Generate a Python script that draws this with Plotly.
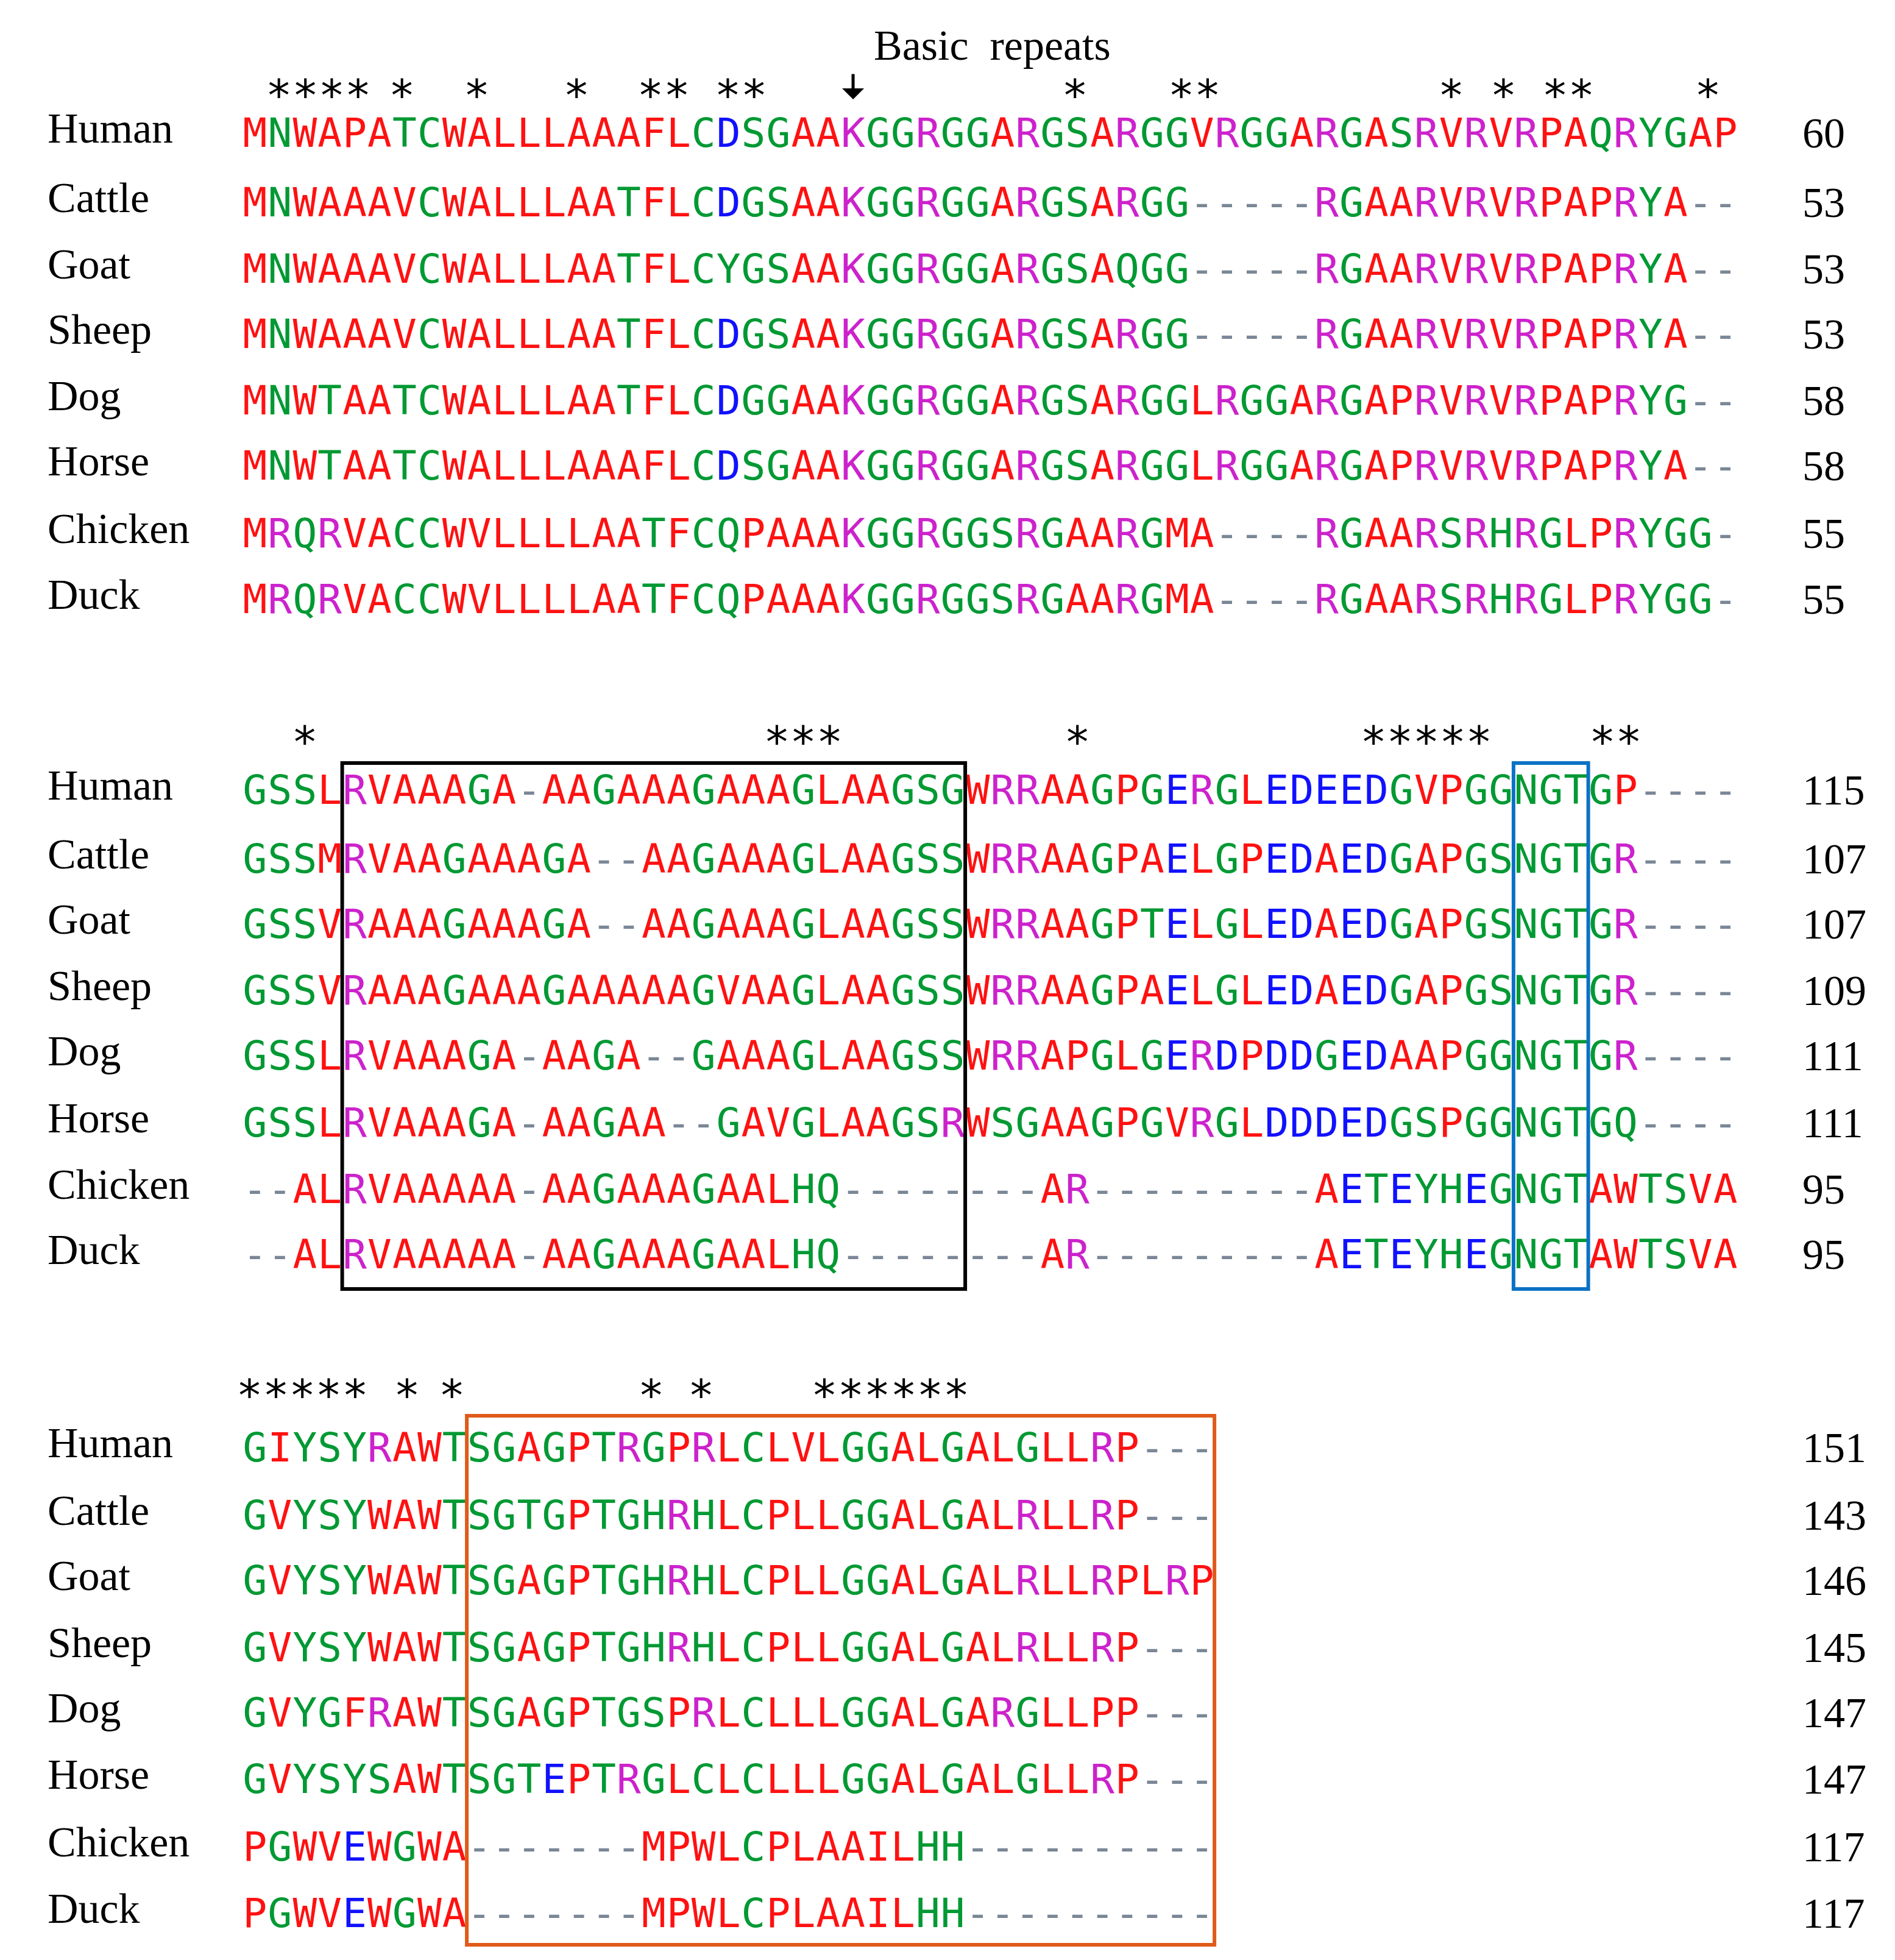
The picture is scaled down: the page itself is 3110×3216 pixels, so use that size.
import plotly.graph_objects as go

species = ["Human", "Cattle", "Goat", "Sheep", "Dog", "Horse", "Chicken", "Duck"]

block1 = [
    "MNWAPATCWALLLAAAFLCDSGAAKGGRGGARGSARGGVRGGARGASRVRVRPAQRYGAP",
    "MNWAAAVCWALLLAATFLCDGSAAKGGRGGARGSARGG-----RGAARVRVRPAPRYA--",
    "MNWAAAVCWALLLAATFLCYGSAAKGGRGGARGSAQGG-----RGAARVRVRPAPRYA--",
    "MNWAAAVCWALLLAATFLCDGSAAKGGRGGARGSARGG-----RGAARVRVRPAPRYA--",
    "MNWTAATCWALLLAATFLCDGGAAKGGRGGARGSARGGLRGGARGAPRVRVRPAPRYG--",
    "MNWTAATCWALLLAAAFLCDSGAAKGGRGGARGSARGGLRGGARGAPRVRVRPAPRYA--",
    "MRQRVACCWVLLLLAATFCQPAAAKGGRGGSRGAARGMA----RGAARSRHRGLPRYGG-",
    "MRQRVACCWVLLLLAATFCQPAAAKGGRGGSRGAARGMA----RGAARSRHRGLPRYGG-",
]
block2 = [
    "GSSLRVAAAGA-AAGAAAGAAAGLAAGSGWRRAAGPGERGLEDEEDGVPGGNGTGP----",
    "GSSMRVAAGAAAGA--AAGAAAGLAAGSSWRRAAGPAELGPEDAEDGAPGSNGTGR----",
    "GSSVRAAAGAAAGA--AAGAAAGLAAGSSWRRAAGPTELGLEDAEDGAPGSNGTGR----",
    "GSSVRAAAGAAAGAAAAAGVAAGLAAGSSWRRAAGPAELGLEDAEDGAPGSNGTGR----",
    "GSSLRVAAAGA-AAGA--GAAAGLAAGSSWRRAPGLGERDPDDGEDAAPGGNGTGR----",
    "GSSLRVAAAGA-AAGAA--GAVGLAAGSRWSGAAGPGVRGLDDDEDGSPGGNGTGQ----",
    "--ALRVAAAAA-AAGAAAGAALHQ--------AR---------AETEYHEGNGTAWTSVA",
    "--ALRVAAAAA-AAGAAAGAALHQ--------AR---------AETEYHEGNGTAWTSVA",
]
block3 = [
    "GIYSYRAWTSGAGPTRGPRLCLVLGGALGALGLLRP---",
    "GVYSYWAWTSGTGPTGHRHLCPLLGGALGALRLLRP---",
    "GVYSYWAWTSGAGPTGHRHLCPLLGGALGALRLLRPLRP",
    "GVYSYWAWTSGAGPTGHRHLCPLLGGALGALRLLRP---",
    "GVYGFRAWTSGAGPTGSPRLCLLLGGALGARGLLPP---",
    "GVYSYSAWTSGTEPTRGLCLCLLLGGALGALGLLRP---",
    "PGWVEWGWA-------MPWLCPLAAILHH----------",
    "PGWVEWGWA-------MPWLCPLAAILHH----------",
]
counts1 = [60, 53, 53, 53, 58, 58, 55, 55]
counts2 = [115, 107, 107, 109, 111, 111, 95, 95]
counts3 = [151, 143, 146, 145, 147, 147, 117, 117]

# star groups: (centre column, text)
stars1 = [(2.55, "****"), (5.9, "*"), (8.9, "*"), (12.9, "*"), (16.4, "**"), (19.5, "**"),
          (32.9, "*"), (37.7, "**"), (48.0, "*"), (50.1, "*"), (52.7, "**"), (58.3, "*")]
stars2 = [(2.0, "*"), (22.0, "***"), (33.0, "*"), (47.0, "*****"), (54.6, "**")]
stars3 = [(1.9, "*****"), (6.1, "*"), (7.9, "*"), (15.9, "*"), (17.9, "*"), (25.5, "******")]
arrow_col = 24

# layout (pixels)
X0, CW = 390, 40.9
rows1 = [216, 330, 439, 546, 655, 762, 873, 981]
rows2 = [1294, 1407, 1514, 1623, 1730, 1840, 1949, 2056]
rows3 = [2373, 2484, 2591, 2701, 2808, 2917, 3028, 3137]
star_y = [155, 1216, 2288]

RED, GREEN, BLUE, MAG, GAP = "#ff1111", "#009933", "#1111ff", "#cc22cc", "#7a8796"
def col(c):
    if c in "AVFPMILW": return RED
    if c in "DE": return BLUE
    if c in "RK": return MAG
    if c == "-": return GAP
    return GREEN

def cx(i):
    return X0 + CW * (i + 0.5)

fig = go.Figure()
for seqs, rows, counts in [(block1, rows1, counts1), (block2, rows2, counts2), (block3, rows3, counts3)]:
    xs, ys, ts, cs = [], [], [], []
    for s, y in zip(seqs, rows):
        for i, ch in enumerate(s):
            xs.append(cx(i)); ys.append(y); ts.append(ch); cs.append(col(ch))
    fig.add_trace(go.Scatter(x=xs, y=ys, text=ts, mode="text", textposition="middle center",
                             textfont=dict(family="DejaVu Sans Mono", size=66, color=cs),
                             hoverinfo="skip", showlegend=False))
    fig.add_trace(go.Scatter(x=[70] * len(rows), y=[r - 8 for r in rows], text=species, mode="text",
                             textposition="middle right",
                             textfont=dict(family="Liberation Serif", size=70, color="black"),
                             hoverinfo="skip", showlegend=False))
    fig.add_trace(go.Scatter(x=[2950] * len(rows), y=rows, text=[str(c) for c in counts], mode="text",
                             textposition="middle right",
                             textfont=dict(family="Liberation Serif", size=70, color="black"),
                             hoverinfo="skip", showlegend=False))

for stars, y in zip([stars1, stars2, stars3], star_y):
    fig.add_trace(go.Scatter(x=[cx(c) for c, _ in stars], y=[y] * len(stars), text=[t for _, t in stars],
                             mode="text", textposition="middle center",
                             textfont=dict(family="DejaVu Sans Mono", size=72, color="black"),
                             hoverinfo="skip", showlegend=False))

fig.add_annotation(x=1620, y=66, text="Basic  repeats", showarrow=False,
                   font=dict(family="Liberation Serif", size=70, color="black"))
fig.add_annotation(x=cx(arrow_col), y=155, ax=cx(arrow_col), ay=112, xref="x", yref="y",
                   axref="x", ayref="y", text="", showarrow=True, arrowhead=1, arrowsize=1.2,
                   arrowwidth=5, arrowcolor="black")

def box(c0, c1, y0, y1, color):
    fig.add_shape(type="rect", x0=X0 + CW * c0, x1=X0 + CW * c1, y0=y0, y1=y1,
                  line=dict(color=color, width=6))

box(4, 29, 1244, 2107, "black")
box(51, 54, 1244, 2107, "#0b72c4")
box(9, 39, 2315, 3183, "#e05a1a")

fig.update_layout(width=3110, height=3216, margin=dict(l=0, r=0, t=0, b=0),
                  plot_bgcolor="white", paper_bgcolor="white",
                  xaxis=dict(range=[0, 3110], visible=False),
                  yaxis=dict(range=[3216, 0], visible=False))
fig.write_html("out.html")
